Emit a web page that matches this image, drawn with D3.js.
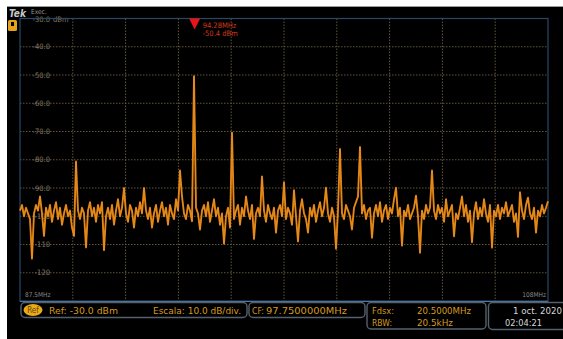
<!DOCTYPE html>
<html>
<head>
<meta charset="utf-8">
<script src="https://cdn.jsdelivr.net/npm/d3@7"></script>
<style>
  html, body { margin: 0; padding: 0; background: #ffffff; }
  svg { display: block; }
  text { font-family: "Liberation Sans Narrow", "DejaVu Sans Condensed", "Liberation Sans", sans-serif; }
</style>
</head>
<body>
<svg id="chart" width="563" height="339"></svg>
<script>
// Sweep settings
const freqStart = 87.5;      // MHz
const freqStop = 108.0;      // MHz
const refLevel = -30;        // dBm (top of screen)
const bottomLevel = -130;    // dBm (bottom of screen)
const xDivisions = 10;

// Vertical axis labels
const levelTicks = [-30, -40, -50, -60, -70, -80, -90, -100, -110, -120];
const levelLabels = ["-30.0", "-40.0", "-50.0", "-60.0", "-70.0", "-80.0", "-90.0", "-100", "-110", "-120"];

// Trace levels (dBm), one per frequency bin, evenly spaced across the span
const traceLevels = [
  -98, -96, -100, -97, -99, -101, -115, -99, -96, -98,
  -93, -99, -107, -97, -100, -96, -102, -98, -95, -101,
  -97, -103, -99, -96, -100, -98, -104, -107, -80.6, -98,
  -101, -97, -99, -111, -98, -95, -100, -97, -102, -96,
  -99, -95, -112, -100, -97, -101, -96, -103, -98, -94,
  -100, -97, -90, -99, -102, -96, -98, -104, -97, -100,
  -95, -99, -90, -98, -101, -97, -104, -99, -96, -102,
  -98, -95, -100, -97, -103, -96, -99, -101, -94, -98,
  -83.8, -93, -99, -101, -96, -98, -101.8, -50.4, -97, -99,
  -104.7, -98, -96, -100, -95, -102, -98, -94, -100, -97,
  -103, -99, -109.7, -100, -97, -104, -70.4, -101, -98, -96,
  -103, -97, -100, -93, -98, -101, -96, -108, -99, -97,
  -100, -85.9, -98, -102, -96, -99, -101, -97, -105.8, -98,
  -96, -100, -88, -101, -97, -99, -103, -90.8, -100, -108.9,
  -98, -94, -99, -101, -105.8, -97, -100, -96, -102, -98,
  -95, -100, -97, -89.9, -99, -102, -97, -100, -111.5, -98,
  -76.2, -99, -101, -96, -98, -100, -104.7, -97, -95, -93,
  -75.5, -99, -96, -101, -98, -97, -107.6, -99, -96, -100,
  -95, -102, -98, -96, -101, -97, -99, -94, -89.9, -100,
  -97, -110.4, -98, -100, -96, -101, -99, -97, -92.7, -100,
  -112.9, -98, -101, -96, -99, -97, -83.8, -98, -101, -96,
  -99, -97, -102, -94, -100, -98, -96, -107.1, -99, -101,
  -97, -93, -100, -96, -102, -98, -109.2, -99, -95, -101,
  -97, -100, -94, -99, -102, -96, -111.1, -98, -100, -96,
  -101, -97, -99, -95, -100, -98, -96, -102, -99, -107.3,
  -91.5, -98, -101, -96, -93.4, -99, -101, -97, -105.8, -98,
  -100, -96, -99, -97, -94.7
];

// Marker readout
const markerFreq = 94.28;
const markerLevel = -50.4;
const markerLines = ["94.28MHz", "-50.4 dBm"];

// Status readouts
const refText = "Ref: -30.0 dBm";
const scaleText = "Escala: 10.0 dB/div.";
const cfLabel = "CF:";
const cfValue = "97.7500000MHz";
const spanLabel = "Fdsx:";
const spanValue = "20.5000MHz";
const rbwLabel = "RBW:";
const rbwValue = "20.5kHz";
const dateText = "1 oct. 2020";
const timeText = "02:04:21";
const startLabel = "87.5MHz";
const stopLabel = "108MHz";

const svg = d3.select("#chart");
const W = 563, H = 339;

// Screen background
svg.append("rect").attr("x", 7).attr("y", 7).attr("width", W - 7).attr("height", H - 7).attr("fill", "#000");
svg.append("line").attr("x1", 7).attr("x2", W).attr("y1", 6.5).attr("y2", 6.5).attr("stroke", "#9a9a9a").attr("stroke-width", 1);

const plot = { left: 20, right: 548, top: 18.5, bottom: 301 };

const x = d3.scaleLinear().domain([freqStart, freqStop]).range([plot.left, plot.right]);
const y = d3.scaleLinear().domain([bottomLevel, refLevel]).range([plot.bottom, plot.top]);

const g = svg.append("g");

// Graticule
const gridColor = "#62553c";
const vFreqs = d3.range(1, xDivisions).map(k => freqStart + k * (freqStop - freqStart) / xDivisions);
g.selectAll("line.vgrid").data(vFreqs).join("line")
  .attr("class", "vgrid")
  .attr("x1", d => x(d)).attr("x2", d => x(d))
  .attr("y1", plot.top).attr("y2", plot.bottom)
  .attr("stroke", gridColor).attr("stroke-width", 1).attr("stroke-dasharray", "1.5 1.5");

const hLevels = d3.range(refLevel - 10, bottomLevel, -10);
g.selectAll("line.hgrid").data(hLevels).join("line")
  .attr("class", "hgrid")
  .attr("x1", plot.left).attr("x2", plot.right)
  .attr("y1", d => y(d)).attr("y2", d => y(d))
  .attr("stroke", gridColor).attr("stroke-width", 1).attr("stroke-dasharray", "1.5 1.5");

// Level labels
g.selectAll("text.ylab").data(levelTicks).join("text")
  .attr("class", "ylab")
  .attr("x", 50).attr("y", d => d === refLevel ? y(d) + 3.5 : y(d) + 2.5)
  .attr("text-anchor", "end")
  .attr("font-size", 7.5)
  .attr("fill", "#857a66")
  .text((d, i) => levelLabels[i]);
g.append("text").attr("x", 53).attr("y", y(refLevel) + 3.5)
  .attr("font-size", 7.5).attr("fill", "#857a66").text("dBm");

// Plot border
svg.append("rect")
  .attr("x", plot.left).attr("y", plot.top)
  .attr("width", plot.right - plot.left).attr("height", plot.bottom - plot.top)
  .attr("fill", "none").attr("stroke", "#284868").attr("stroke-width", 1.2);
svg.append("line").attr("x1", plot.left).attr("x2", plot.right)
  .attr("y1", plot.bottom + 0.5).attr("y2", plot.bottom + 0.5)
  .attr("stroke", "#4a78a8").attr("stroke-width", 1.2);

// Start / stop frequency labels
svg.append("text").attr("x", 25).attr("y", 297).attr("font-size", 6.5).attr("fill", "#8a8a8a").text(startLabel);
svg.append("text").attr("x", 546).attr("y", 297).attr("text-anchor", "end").attr("font-size", 6.5).attr("fill", "#8a8a8a").text(stopLabel);

// Spectrum trace
const step = (freqStop - freqStart) / (traceLevels.length - 1);
const line = d3.line()
  .x((d, i) => x(freqStart + i * step))
  .y(d => y(d));
svg.append("path").datum(traceLevels)
  .attr("d", line)
  .attr("fill", "none")
  .attr("stroke", "#d97b0c")
  .attr("stroke-width", 1.9)
  .attr("stroke-linejoin", "round");
svg.append("path").datum(traceLevels)
  .attr("d", line)
  .attr("fill", "none")
  .attr("stroke", "#f5a43a")
  .attr("stroke-width", 0.7)
  .attr("opacity", 0.6)
  .attr("stroke-linejoin", "round");

// Marker
const mx = x(markerFreq);
svg.append("path")
  .attr("d", `M${mx - 5.5},${plot.top} L${mx + 5.5},${plot.top} L${mx},${plot.top + 11} Z`)
  .attr("fill", "#e8141a");
svg.selectAll("text.mk").data(markerLines).join("text")
  .attr("class", "mk")
  .attr("x", mx + 8).attr("y", (d, i) => 27.5 + i * 8)
  .attr("font-size", 7.5).attr("fill", "#d2391a")
  .text(d => d);

// Header: logo and mode
svg.append("text").attr("x", 9).attr("y", 16.5).attr("font-size", 10).attr("font-weight", "bold")
  .attr("font-style", "italic").attr("fill", "#c8c8c8").attr("font-family", "DejaVu Sans").text("Tek");
svg.append("text").attr("x", 31).attr("y", 14).attr("font-size", 6.5).attr("fill", "#9a9a9a").text("Exec.");

// Channel reference icon
svg.append("rect").attr("x", 8).attr("y", 20).attr("width", 9).attr("height", 11).attr("rx", 1.5).attr("fill", "#e3a11c");
svg.append("rect").attr("x", 11).attr("y", 22).attr("width", 3).attr("height", 4).attr("fill", "#000");

// Status panels
const panelStroke = "#55606c";
const amber = "#d49a1e";
function panel(x0, y0, w, h) {
  svg.append("rect").attr("x", x0).attr("y", y0).attr("width", w).attr("height", h)
    .attr("rx", 4).attr("fill", "#000").attr("stroke", panelStroke).attr("stroke-width", 1.4);
}
panel(21, 302.5, 226, 15);
panel(249, 302.5, 116, 15);
panel(367, 302.5, 119, 26.5);
panel(488.5, 302.5, 90, 27);

// Ref badge
svg.append("ellipse").attr("cx", 33).attr("cy", 310).attr("rx", 9.5).attr("ry", 6).attr("fill", "#e8aa1a");
svg.append("text").attr("x", 33).attr("y", 313).attr("text-anchor", "middle").attr("font-size", 8)
  .attr("fill", "#6a4400").text("Ref");

function label(t, x0, y0, len, color) {
  const el = svg.append("text").attr("x", x0).attr("y", y0).attr("font-size", 9).attr("fill", color || amber).text(t);
  if (len) el.attr("textLength", len).attr("lengthAdjust", "spacingAndGlyphs");
  return el;
}
label(refText, 49, 313.5, 69);
label(scaleText, 153, 313.5, 88);
label(cfLabel, 252, 313.5, 12);
label(cfValue, 266, 313.5, 81);
label(spanLabel, 372, 313.5, 22);
label(spanValue, 417, 313.5, 54);
label(rbwLabel, 372, 326, 20);
label(rbwValue, 417, 326, 36);
label(dateText, 513, 313.5, 49, "#d6d6d6");
label(timeText, 505, 326, 37, "#d6d6d6");
</script>
</body>
</html>
